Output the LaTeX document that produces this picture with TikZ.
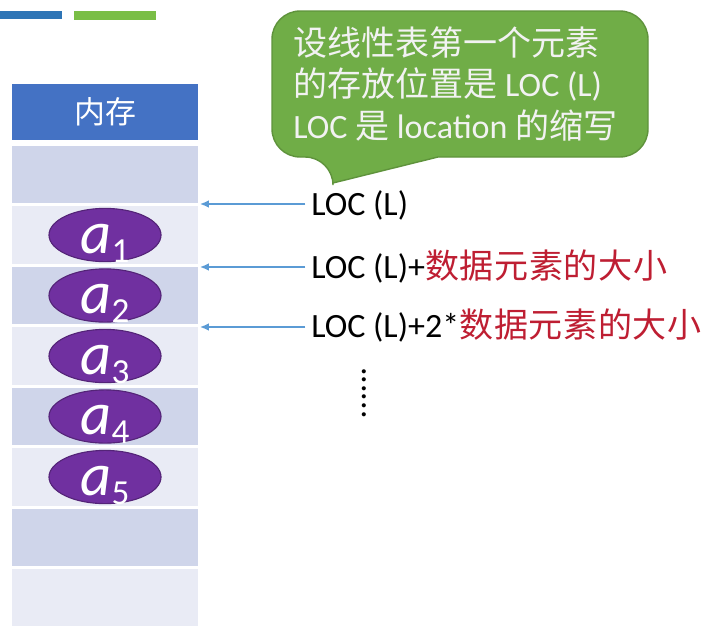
\documentclass[tikz,border=0pt]{standalone}
\usepackage{fontspec}
\setmainfont{Carlito}
\newfontfamily\cjk{Noto Sans CJK SC}
\newfontfamily\cjkspaced[LetterSpace=2]{Noto Sans CJK SC}
\usetikzlibrary{arrows.meta,shapes.geometric}
\definecolor{headblue}{RGB}{68,114,196}
\definecolor{celldark}{RGB}{207,213,234}
\definecolor{celllight}{RGB}{233,235,245}
\definecolor{elempurple}{RGB}{112,48,160}
\definecolor{notegreen}{RGB}{112,173,71}
\definecolor{pointblue}{RGB}{91,155,213}
\definecolor{sizered}{RGB}{190,30,50}
\definecolor{barblue}{RGB}{46,117,182}
\definecolor{bargreen}{RGB}{122,190,70}
\newcommand{\elemlabel}[1]{\textit{a}\raisebox{-6.4pt}{\fontsize{25}{25}\selectfont #1}}
\newcommand{\sizetext}{{\cjkspaced\fontsize{24.2}{24.2}\selectfont\color{sizered}数据元素的大小}}

\begin{document}
\begin{tikzpicture}[x=0.025cm, y=-0.025cm]
        %style
        \tikzset{cell/.style = {shape=rectangle, inner sep=0pt, minimum width=4.65cm, minimum height=1.44cm}}
        \tikzset{elem/.style = {shape=ellipse, fill=elempurple, draw=elempurple!75!black, thick, inner sep=0pt, minimum width=2.8cm, minimum height=1.33cm, text=white, text height=25.6pt, text depth=0pt, font=\fontsize{43}{43}\selectfont}}
        \tikzset{note/.style = {fill=notegreen, draw=notegreen!85!black, line width=1pt}}
        \tikzset{notetext/.style = {anchor=base west, inner sep=0pt, text=white!95!black, font=\fontsize{24.2}{28.5}\selectfont}}
        \tikzset{loclabel/.style = {anchor=base west, inner sep=0pt, font=\fontsize{24.2}{28.5}\selectfont}}
        \tikzset{pointer/.style = {draw=pointblue, line width=1pt, shorten <=4pt, -{Latex[length=2.2mm, width=1.9mm]}}}
        \useasboundingbox (0,0) rectangle (721,625);
        % top bars
        \fill[barblue]  (0,11) rectangle (62,19);
        \fill[bargreen] (74,11) rectangle (156,20);
        % memory column
        \node[cell, fill=headblue, minimum height=1.4cm, text=white, font=\cjk\fontsize{22}{22}\selectfont] (mem) at (105,112) {内存};
        \node[cell, fill=celldark]  (c1) at (105,174.5) {};
        \node[cell, fill=celllight] (c2) at (105,235) {};
        \node[cell, fill=celldark]  (c3) at (105,295.5) {};
        \node[cell, fill=celllight] (c4) at (105,356) {};
        \node[cell, fill=celldark]  (c5) at (105,416.5) {};
        \node[cell, fill=celllight] (c6) at (105,477) {};
        \node[cell, fill=celldark]  (c7) at (105,537.5) {};
        \node[cell, fill=celllight] (c8) at (105,598) {};
        \node[elem] (a1) at (c2.center) {\elemlabel{1}};
        \node[elem] (a2) at (c3.center) {\elemlabel{2}};
        \node[elem] (a3) at (c4.center) {\elemlabel{3}};
        \node[elem] (a4) at (c5.center) {\elemlabel{4}};
        \node[elem] (a5) at (c6.center) {\elemlabel{5}};
        % callout
        \draw[note] (520,157) [rounded corners=20] -- (648,157) -- (648,11) -- (272,11) -- (272,157) -- (333,157)
                [sharp corners] -- (333,183) -- (438,157) -- cycle;
        \node[notetext] (l1) at (293,55)  {\cjk 设线性表第一个元素};
        \node[notetext] (l2) at (293,96)  {{\cjk 的存放位置是} LOC (L)};
        \node[notetext] (l3) at (293,138) {LOC {\cjk 是} location {\cjk 的缩写}};
        % addresses
        \coordinate (p1) at (200,204);
        \coordinate (p2) at (200,267);
        \coordinate (p3) at (200,327);
        \node[loclabel] (t1) at (311,215) {LOC (L)};
        \node[loclabel] (t2) at (311,278) {LOC (L)+\sizetext};
        \node[loclabel] (t3) at (311,337) {LOC (L)+2*\sizetext};
        \node[rotate=-90, inner sep=0pt, font=\fontsize{24.2}{24.2}\selectfont] (dots) at (364,393) {......};
        \draw[pointer] (t1.west |- p1) to (p1);
        \draw[pointer] (t2.west |- p2) to (p2);
        \draw[pointer] (t3.west |- p3) to (p3);
\end{tikzpicture}
\end{document}
